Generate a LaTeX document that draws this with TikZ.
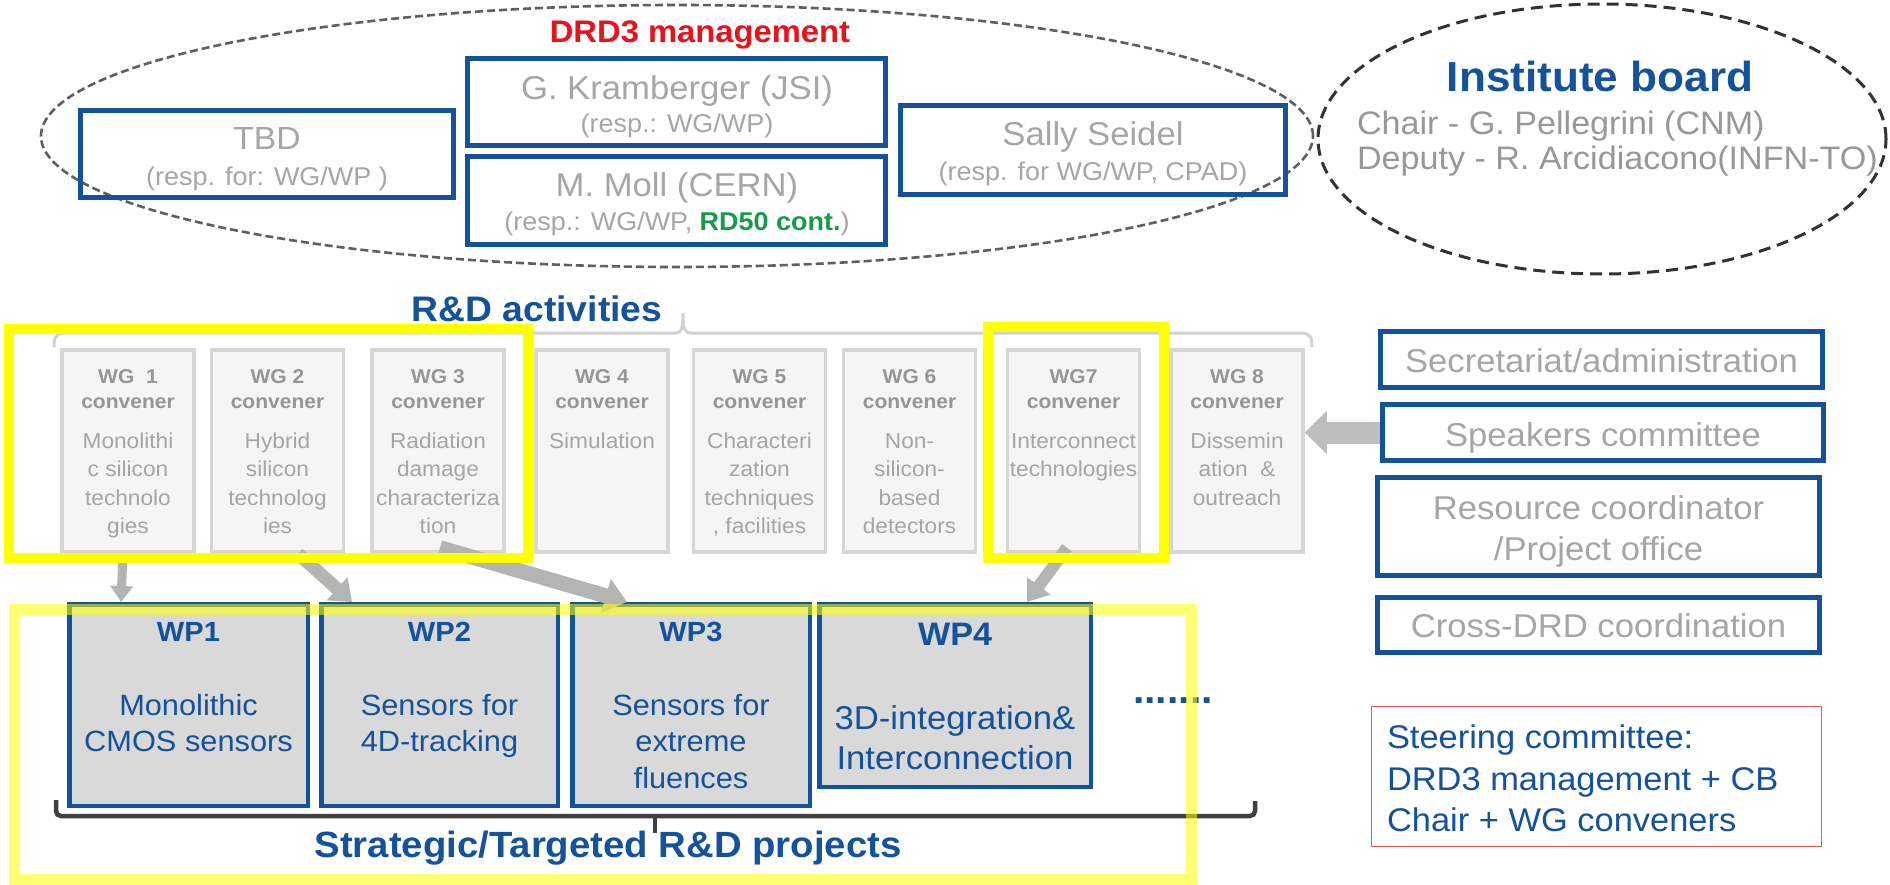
\documentclass[tikz,border=0pt]{standalone}
\usepackage{fontspec}
\setmainfont{Liberation Sans}[FakeStretch=1.05]
\usetikzlibrary{arrows.meta,calc}

\definecolor{drdblue}{RGB}{20,82,155}
\definecolor{drdred}{RGB}{232,18,28}
\definecolor{rdgreen}{RGB}{22,155,72}
\definecolor{namegray}{RGB}{166,166,166}
\definecolor{ibgray}{RGB}{152,152,152}
\definecolor{wghead}{RGB}{150,150,150}
\definecolor{wgtext}{RGB}{165,165,165}
\definecolor{wgfill}{RGB}{245,245,245}
\definecolor{wgline}{RGB}{214,214,214}
\definecolor{wpfill}{RGB}{217,217,217}
\definecolor{arrowgray}{RGB}{180,180,180}
\definecolor{bracegray}{RGB}{210,210,210}
\definecolor{bracketdark}{RGB}{64,64,64}
\definecolor{hilite}{RGB}{255,255,0}
\definecolor{steerred}{RGB}{225,90,90}

\newcommand\fsz[1]{\fontsize{#1}{#1}\selectfont}

\begin{document}
\begin{tikzpicture}[x=1pt,y=-1pt,
  txt/.style={anchor=base, inner sep=0pt, outer sep=0pt},
  txtw/.style={anchor=base west, inner sep=0pt, outer sep=0pt},
  mgbox/.style={draw=drdblue, line width=4.5pt, inner sep=0pt},
  wgbox/.style={draw=wgline, fill=wgfill, line width=3.5pt, inner sep=0pt,
                minimum width=132pt, minimum height=202pt},
  wpbox/.style={draw=drdblue, fill=wpfill, line width=4.5pt, inner sep=0pt},
  nm/.style={txt, font=\fsz{33}, text=namegray},
  rsp/.style={txt, font=\fsz{25.7}, text=namegray},
  wgh/.style={txt, font=\fsz{20}\bfseries, text=wghead},
  wgb/.style={txt, font=\fsz{21.6}, text=wgtext},
  wph/.style={txt, font=\fsz{27.7}\bfseries, text=drdblue},
  wpt/.style={txt, font=\fsz{29.3}, text=drdblue},
  garrow/.style={draw=arrowgray, line cap=butt},
  yframe/.style={draw=hilite, line width=10pt}]

\fill[white] (0,0) rectangle (1890,885);
\useasboundingbox (0,0) rectangle (1890,885);

% ---------- management group ----------
\draw[draw={rgb,255:red,95;green,95;blue,95}, line width=2.6pt, dash pattern=on 8pt off 4pt]
  (677,136) ellipse [x radius=636pt, y radius=131pt];
\node[txt, font=\fsz{31.2}\bfseries, text=drdred] (mgmtT) at (700,43) {DRD3 management};

\node[mgbox, minimum width=373pt, minimum height=87pt] (tbd) at (267,154) {};
\node[txt, font=\fsz{32}, text=namegray] (tbdN) at (267,150) {TBD};
\node[rsp] (tbdR) at (267,186) {(resp. for: WG/WP )};

\node[mgbox, minimum width=418pt, minimum height=87pt] (kra) at (676.5,102) {};
\node[nm] (kraN) at (677,99.5) {G. Kramberger (JSI)};
\node[rsp] (kraR) at (677,133) {(resp.: WG/WP)};

\node[mgbox, minimum width=418pt, minimum height=88pt] (mol) at (676.5,200.5) {};
\node[nm] (molN) at (677,196.5) {M. Moll (CERN)};
\node[rsp] (molR) at (677,230.5) {(resp.: WG/WP, \textcolor{rdgreen}{\bfseries RD50 cont.})};

\node[mgbox, minimum width=385pt, minimum height=89pt] (sal) at (1093,150) {};
\node[nm] (salN) at (1093,146) {Sally Seidel};
\node[rsp] (salR) at (1093,181) {(resp. for WG/WP, CPAD)};

% ---------- institute board ----------
\draw[draw={rgb,255:red,50;green,50;blue,50}, line width=3pt, dash pattern=on 12pt off 7pt]
  (1602,139) ellipse [x radius=284pt, y radius=135pt];
\node[txt, font=\fsz{42}\bfseries, text=drdblue] (ibT) at (1600,91.7) {Institute board};
\node[txtw, font=\fsz{32.5}, text=ibgray] (ibC) at (1357,135) {Chair - G. Pellegrini (CNM)};
\node[txtw, font=\fsz{32.5}, text=ibgray] (ibD) at (1357,170) {Deputy - R. Arcidiacono(INFN-TO)};

% ---------- R&D activities ----------
\node[txt, font=\fsz{35.5}\bfseries, text=drdblue] (rdT) at (537,322) {R\&D activities};
\draw[bracegray, line width=3pt]
  (54,347) .. controls (54,337) and (56,333) .. (66,333) -- (676,333)
  .. controls (681,333) and (683,329) .. (683,313)
  .. controls (683,329) and (685,333) .. (690,333) -- (1300,333)
  .. controls (1310,333) and (1312,337) .. (1312,347);

\foreach \i/\cx/\hd/\la/\lb/\lc/\ld in {
  1/128/{WG~~1}/{Monolithi}/{c silicon}/{technolo}/{gies},
  2/277.5/{WG 2}/{Hybrid}/{silicon}/{technolog}/{ies},
  3/438/{WG 3}/{Radiation}/{damage}/{characteriza}/{tion},
  4/602/{WG 4}/{Simulation}/{}/{}/{},
  5/759.5/{WG 5}/{Characteri}/{zation}/{techniques}/{, facilities},
  6/909.5/{WG 6}/{Non-}/{silicon-}/{based}/{detectors},
  7/1073.5/{WG7}/{Interconnect}/{technologies}/{}/{},
  8/1237/{WG 8}/{Dissemin}/{ation~~\&}/{outreach}/{}}{
  \node[wgbox] (wg\i) at (\cx,451) {};
  \node[wgh] (wg\i h) at (\cx,383) {\hd};
  \node[wgh] (wg\i c) at (\cx,408) {convener};
  \node[wgb] (wg\i a) at (\cx,448) {\la};
  \node[wgb] (wg\i b) at (\cx,476.5) {\lb};
  \node[wgb] (wg\i x) at (\cx,505) {\lc};
  \node[wgb] (wg\i d) at (\cx,533.5) {\ld};
}

% ---------- support bodies ----------
\node[mgbox, minimum width=442pt, minimum height=56pt] (sec) at (1601.5,359.5) {};
\node[nm] (secT) at (1601.5,372) {Secretariat/administration};
\node[mgbox, minimum width=441pt, minimum height=56pt] (spk) at (1603,432.5) {};
\node[nm] (spkT) at (1603,446.5) {Speakers committee};
\node[mgbox, minimum width=442pt, minimum height=98pt] (res) at (1598.5,526.5) {};
\node[nm] (resA) at (1598.5,519.5) {Resource coordinator};
\node[nm] (resB) at (1598.5,560.5) {/Project office};
\node[mgbox, minimum width=442pt, minimum height=55pt] (crs) at (1598.5,625) {};
\node[nm] (crsT) at (1598.5,637.5) {Cross-DRD coordination};

\node[draw=steerred, line width=1.5pt, inner sep=0pt, minimum width=450pt, minimum height=140pt]
  (steer) at (1596.5,776.5) {};
\node[txtw, font=\fsz{32.8}, text=drdblue] (stA) at (1387,748) {Steering committee:};
\node[txtw, font=\fsz{32.8}, text=drdblue] (stB) at (1387,790) {DRD3 management + CB};
\node[txtw, font=\fsz{32.8}, text=drdblue] (stC) at (1387,831) {Chair + WG conveners};

% ---------- work packages ----------
\node[wpbox, minimum width=238.5pt, minimum height=201.5pt] (wp1) at (188.5,705) {};
\node[wph] (wp1h) at (188.5,641.7) {WP1};
\node[wpt] (wp1a) at (188.5,715) {Monolithic};
\node[wpt] (wp1b) at (188.5,751.7) {CMOS sensors};

\node[wpbox, minimum width=236.5pt, minimum height=201.5pt] (wp2) at (439.5,705) {};
\node[wph] (wp2h) at (439.5,641.7) {WP2};
\node[wpt] (wp2a) at (439.5,715) {Sensors for};
\node[wpt] (wp2b) at (439.5,751.7) {4D-tracking};

\node[wpbox, minimum width=237.5pt, minimum height=201.5pt] (wp3) at (691,705) {};
\node[wph] (wp3h) at (691,641.7) {WP3};
\node[wpt] (wp3a) at (691,715) {Sensors for};
\node[wpt] (wp3b) at (691,751.7) {extreme};
\node[wpt] (wp3c) at (691,788.4) {fluences};

\node[wpbox, minimum width=271.5pt, minimum height=182.5pt] (wp4) at (955,695.5) {};
\node[txt, font=\fsz{32.5}\bfseries, text=drdblue] (wp4h) at (955,645) {WP4};
\node[txt, font=\fsz{33}, text=drdblue] (wp4a) at (955,729) {3D-integration\&};
\node[txt, font=\fsz{33}, text=drdblue] (wp4b) at (955,769) {Interconnection};

\node[txt, font=\fsz{39}\bfseries, text=drdblue] (more) at (1173,703) {.......};

\draw[bracketdark, line width=4.5pt, rounded corners=5pt]
  (56,800) -- (56,816) -- (1255,816) -- (1255,801);
\draw[bracketdark, line width=4pt] (655,816) -- (655,833);
\node[txt, font=\fsz{36.5}\bfseries, text=drdblue] (stratT) at (608,857) {Strategic/Targeted R\&D projects};

% ---------- links from working groups to work packages ----------
\draw[garrow, line width=9pt, -{Triangle[length=16pt,width=22pt]}]
  ([xshift=-5pt]wg1.south) -- ([xshift=-67.5pt]wp1.north);
\draw[garrow, line width=13pt, -{Triangle[length=20pt,width=30pt]}]
  ([xshift=20.5pt]wg2.south) -- ([xshift=-87.5pt]wp2.north);
\draw[garrow, line width=15pt, -{Triangle[length=22pt,width=34pt]}]
  ([xshift=2pt,yshift=6pt]wg3.south) -- ([xshift=-64pt]wp3.north);
\draw[garrow, line width=12pt, -{Triangle[length=20pt,width=28pt]}]
  ([xshift=-6.5pt,yshift=6pt]wg7.south) -- ([xshift=72pt]wp4.north);
\draw[draw={rgb,255:red,190;green,190;blue,190}, line width=22pt, -{Triangle[length=22pt,width=42pt]}]
  (spk.west) -- (spk.west -| wg8.east);

% ---------- highlight frames ----------
\draw[yframe] (9,329) rectangle (528,558);
\draw[yframe] (988,327) rectangle (1164,558);
\draw[yframe, line width=11pt, draw opacity=0.55] (14,609) rectangle (1191,879);

\end{tikzpicture}
\end{document}
